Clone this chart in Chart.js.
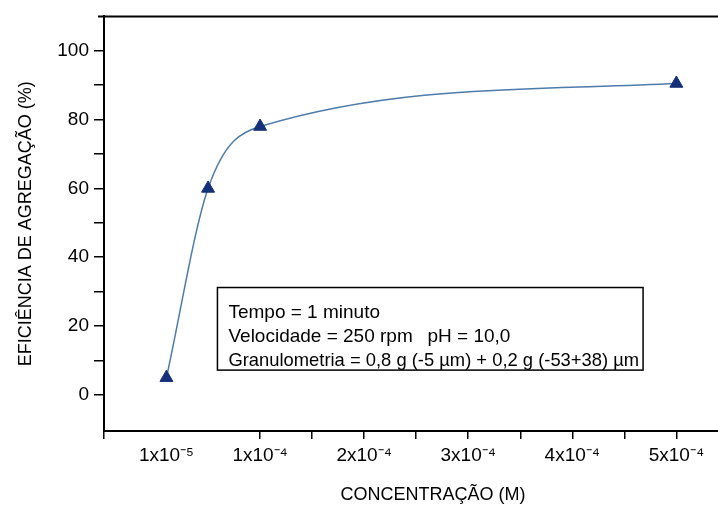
<!DOCTYPE html>
<html>
<head>
<meta charset="utf-8">
<script src="https://cdn.jsdelivr.net/npm/chart.js@4"></script>
<style>
  html, body { margin: 0; padding: 0; background: #fff; }
</style>
</head>
<body>
<canvas id="chart" width="718" height="511"></canvas>
<script>
// data
const concentration = [1e-5, 5e-5, 1e-4, 5e-4];
const efficiency = [5, 60, 78, 90.5];

const xTickValues = [-0.5e-4, 1e-5, 1e-4, 1.5e-4, 2e-4, 2.5e-4, 3e-4, 3.5e-4, 4e-4, 4.5e-4, 5e-4];
const xTickLabels = ['', '1x10⁻⁵', '1x10⁻⁴', '', '2x10⁻⁴', '', '3x10⁻⁴', '', '4x10⁻⁴', '', '5x10⁻⁴'];
const yTickValues = [0, 10, 20, 30, 40, 50, 60, 70, 80, 90, 100];
const yTickLabels = ['0', '', '20', '', '40', '', '60', '', '80', '', '100'];

const xTitle = 'CONCENTRAÇÃO (M)';
const noteLines = ['Tempo = 1 minuto', 'Velocidade = 250 rpm', 'pH = 10,0',
  'Granulometria = 0,8 g (-5 µm) + 0,2 g (-53+38) µm'];

const FONT = '"Liberation Sans", Arial, sans-serif';

// top frame line, x title and the note box
const framePlugin = {
  id: 'frame',
  afterDatasetsDraw(chart) {
    const { ctx, chartArea, scales } = chart;
    ctx.save();
    ctx.strokeStyle = '#000';
    ctx.lineWidth = 2;
    ctx.beginPath();
    ctx.moveTo(chartArea.left - 6, chartArea.top);
    ctx.lineTo(chartArea.right, chartArea.top);
    ctx.stroke();

    ctx.fillStyle = '#000';
    ctx.font = '18px ' + FONT;
    ctx.textAlign = 'center';
    ctx.textBaseline = 'middle';
    ctx.fillText(xTitle, (chartArea.left + chartArea.right) / 2 + 22, 495);

    const x0 = scales.x.getPixelForValue(0.59e-4);
    const x1 = scales.x.getPixelForValue(4.68e-4);
    const y0 = scales.y.getPixelForValue(31.2);
    const y1 = scales.y.getPixelForValue(7.2);
    ctx.fillStyle = '#fff';
    ctx.fillRect(x0, y0, x1 - x0, y1 - y0);
    ctx.lineWidth = 1.5;
    ctx.strokeRect(x0, y0, x1 - x0, y1 - y0);

    ctx.fillStyle = '#000';
    ctx.font = '19px ' + FONT;
    ctx.textBaseline = 'alphabetic';
    ctx.textAlign = 'left';
    const tx = x0 + 11;
    ctx.fillText(noteLines[0], tx, y0 + 30);
    ctx.fillText(noteLines[1], tx, y0 + 54);
    ctx.fillText(noteLines[2], tx + 199, y0 + 54);
    ctx.fillText(noteLines[3], tx, y0 + 78, x1 - tx - 4);
    ctx.restore();
  }
};

new Chart(document.getElementById('chart'), {
  type: 'line',
  data: {
    datasets: [{
      data: concentration.map((c, i) => ({ x: c, y: efficiency[i] })),
      borderColor: '#4d7bab',
      borderWidth: 1.5,
      cubicInterpolationMode: 'monotone',
      pointStyle: 'triangle',
      pointRadius: 7.5,
      pointBackgroundColor: '#14307a',
      pointBorderColor: '#14307a',
      pointBorderWidth: 1,
      clip: false
    }]
  },
  options: {
    responsive: false,
    animation: false,
    layout: { autoPadding: false, padding: { top: 15, left: 0, right: 0, bottom: 0 } },
    plugins: {
      legend: { display: false },
      tooltip: { enabled: false }
    },
    scales: {
      x: {
        type: 'linear',
        min: -0.5e-4,
        max: 5.4e-4,
        afterBuildTicks: s => { s.ticks = xTickValues.map(v => ({ value: v })); },
        afterFit: s => { s.height = 80; s.paddingLeft = 0; s.paddingRight = 0; },
        ticks: {
          autoSkip: false,
          maxRotation: 0,
          padding: 5,
          color: '#000',
          font: { family: FONT, size: 19 },
          callback: (v, i) => xTickLabels[i]
        },
        grid: {
          drawOnChartArea: false,
          tickLength: 8,
          lineWidth: 1.5,
          tickColor: c => (c.tick && c.tick.value === 1e-5) ? 'rgba(0,0,0,0)' : '#000'
        },
        border: { display: true, color: '#000', width: 2 }
      },
      y: {
        min: -10.5,
        max: 110,
        afterBuildTicks: s => { s.ticks = yTickValues.map(v => ({ value: v })); },
        afterFit: s => { s.width = 104; },
        ticks: {
          autoSkip: false,
          padding: 5,
          color: '#000',
          font: { family: FONT, size: 19 },
          callback: (v, i) => yTickLabels[i]
        },
        grid: {
          drawOnChartArea: false,
          tickLength: 10,
          lineWidth: 1.5,
          tickColor: '#000'
        },
        border: { display: true, color: '#000', width: 2 },
        title: {
          display: true,
          text: 'EFICIÊNCIA DE AGREGAÇÃO (%)',
          color: '#000',
          font: { family: FONT, size: 18 },
          padding: { top: 15, bottom: 0 }
        }
      }
    }
  },
  plugins: [framePlugin]
});
</script>
</body>
</html>
